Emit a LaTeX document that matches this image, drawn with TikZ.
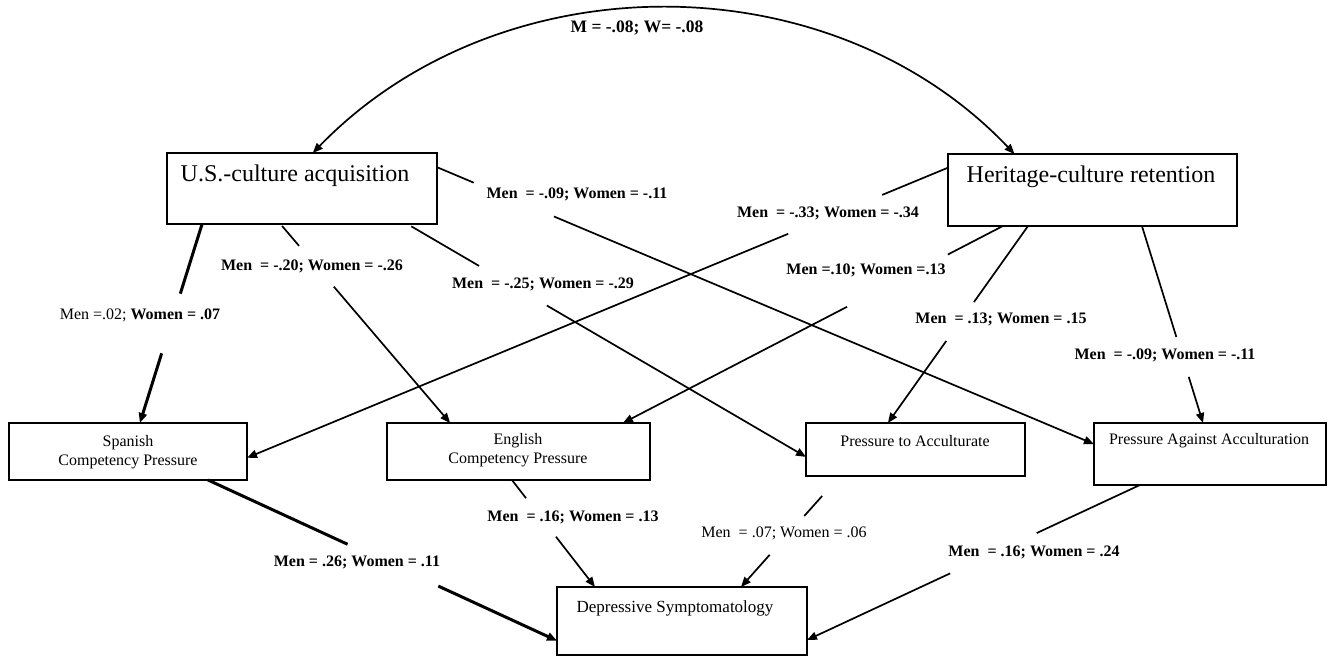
\documentclass[tikz,border=0pt]{standalone}
\usepackage{fontspec}
\setmainfont{Liberation Serif}
\usetikzlibrary{arrows.meta,calc}
\newcommand{\gapedge}[6][conn]{%
  \draw[#1] ($(#2)!#3!(#6)$) -- ($(#2)!#4!(#6)$);
  \draw[#1,->] ($(#2)!#5!(#6)$) -- (#6);}
\begin{document}
\begin{tikzpicture}[x=0.5pt,y=-0.5pt,
  box/.style={draw,line width=0.9pt,inner sep=0pt,outer sep=0pt,rectangle},
  big/.style={inner sep=0pt,font=\fontsize{12}{14}\selectfont},
  small/.style={inner sep=0pt,align=center,font=\fontsize{8}{9.5}\selectfont},
  deptext/.style={inner sep=0pt,font=\fontsize{8.5}{10}\selectfont},
  lab/.style={inner sep=0pt,font=\bfseries\fontsize{8}{9.6}\selectfont},
  labr/.style={inner sep=0pt,font=\fontsize{8}{9.6}\selectfont},
  toplab/.style={inner sep=0pt,font=\bfseries\fontsize{8.75}{10}\selectfont},
  conn/.style={line width=0.85pt},
  thk/.style={line width=1.5pt},
  >={Triangle[length=5pt,width=4pt]}]
\useasboundingbox (0,0) rectangle (1334,656);
\fill[white] (0,0) rectangle (1334,656);

% boxes
\node[box,minimum width=135pt,minimum height=35.5pt] (us) at (302,188.5) {};
\node[big] (usT) at (295,176) {U.S.-culture acquisition};
\node[box,minimum width=144.5pt,minimum height=36pt] (her) at (1092.5,190) {};
\node[big] (herT) at (1091,177) {Heritage-culture retention};
\node[box,minimum width=119pt,minimum height=28.5pt] (sp) at (128,451.5) {};
\node[small] (spT) at (128,452.5) {Spanish\\Competency Pressure};
\node[box,minimum width=131.5pt,minimum height=28.5pt] (en) at (518.5,451.5) {};
\node[small] (enT) at (518,450.5) {English\\Competency Pressure};
\node[box,minimum width=109.5pt,minimum height=26.5pt] (pta) at (915.5,449.5) {};
\node[small] (ptaT) at (915,441) {Pressure to Acculturate};
\node[box,minimum width=116pt,minimum height=31pt] (paa) at (1210,454) {};
\node[small] (paaT) at (1209,441) {Pressure Against Acculturation};
\node[box,minimum width=125pt,minimum height=34pt] (dep) at (682,621) {};
\node[deptext] (depT) at (675,608) {Depressive Symptomatology};

% covariance arc
\coordinate (arcS) at ($(us.north west)!0.54!(us.north east)$);
\coordinate (arcE) at ($(her.north west)!0.23!(her.north east)$);
\draw[conn,<->] (arcS) .. controls (500,-40) and (830,-40) .. (arcE);
\node[toplab] (l0) at (637,28) {M = -.08; W= -.08};

% end points
\coordinate (s1) at ($(us.south west)!0.13!(us.south east)$);
\coordinate (t1) at ($(sp.north west)!0.55!(sp.north east)$);
\coordinate (s2) at ($(us.south west)!0.42!(us.south east)$);
\coordinate (t2) at ($(en.north west)!0.24!(en.north east)$);
\coordinate (s3) at ($(us.south west)!0.89!(us.south east)$);
\coordinate (t3) at ($(pta.north west)!0.64!(pta.south west)$);
\coordinate (s4) at ($(us.north east)!0.2!(us.south east)$);
\coordinate (t4) at ($(paa.north west)!0.34!(paa.south west)$);
\coordinate (s5) at ($(her.north west)!0.19!(her.south west)$);
\coordinate (t5) at ($(sp.north east)!0.61!(sp.south east)$);
\coordinate (s6) at ($(her.south west)!0.19!(her.south east)$);
\coordinate (t6) at ($(en.north west)!0.897!(en.north east)$);
\coordinate (s7) at ($(her.south west)!0.277!(her.south east)$);
\coordinate (t7) at ($(pta.north west)!0.374!(pta.north east)$);
\coordinate (s8) at ($(her.south west)!0.671!(her.south east)$);
\coordinate (t8) at ($(paa.north west)!0.47!(paa.north east)$);
\coordinate (s9) at ($(sp.south west)!0.836!(sp.south east)$);
\coordinate (t9) at ($(dep.north west)!0.79!(dep.south west)$);
\coordinate (s10) at ($(en.south west)!0.475!(en.south east)$);
\coordinate (t10) at ($(dep.north west)!0.152!(dep.north east)$);
\coordinate (s11) at ($(pta.south west)!0.155!(pta.south east)$);
\coordinate (t11) at ($(dep.north west)!0.736!(dep.north east)$);
\coordinate (s12) at ($(paa.south west)!0.198!(paa.south east)$);
\coordinate (t12) at ($(dep.north east)!0.78!(dep.south east)$);

% connectors
\gapedge[thk]{s1}{0}{0.35}{0.65}{t1}
\gapedge{s2}{0.01}{0.11}{0.315}{t2}
\gapedge{s3}{0.01}{0.18}{0.35}{t3}
\gapedge{s4}{0}{0.056}{0.178}{t4}
\gapedge{s5}{0}{0.094}{0.228}{t5}
\gapedge{s6}{0}{0.145}{0.41}{t6}
\gapedge{s7}{0}{0.386}{0.584}{t7}
\gapedge{s8}{0}{0.563}{0.766}{t8}
\gapedge[thk]{s9}{0}{0.40}{0.66}{t9}
\gapedge{s10}{0}{0.17}{0.53}{t10}
\gapedge{s11}{0.18}{0.36}{0.71}{t11}
\gapedge{s12}{0}{0.31}{0.57}{t12}

% labels
\node[labr] (l1) at (140,315) {Men =.02; \textbf{Women = .07}};
\node[lab] (l2) at (312,266) {Men\ \ = -.20; Women = -.26};
\node[lab] (l3) at (543,284) {Men\ \ = -.25; Women = -.29};
\node[lab] (l4) at (577,194) {Men\ \ = -.09; Women = -.11};
\node[lab] (l5) at (828,213) {Men\ \ = -.33; Women = -.34};
\node[lab] (l6) at (866,270) {Men =.10; Women =.13};
\node[lab] (l7) at (1001,319) {Men\ \ = .13; Women = .15};
\node[lab] (l8) at (1165,355) {Men\ \ = -.09; Women = -.11};
\node[lab] (l9) at (357,562) {Men = .26; Women = .11};
\node[lab] (l10) at (573,517) {Men\ \ = .16; Women = .13};
\node[labr] (l11) at (784,533) {Men\ \ = .07; Women = .06};
\node[lab] (l12) at (1034,552) {Men\ \ = .16; Women = .24};
\end{tikzpicture}
\end{document}
